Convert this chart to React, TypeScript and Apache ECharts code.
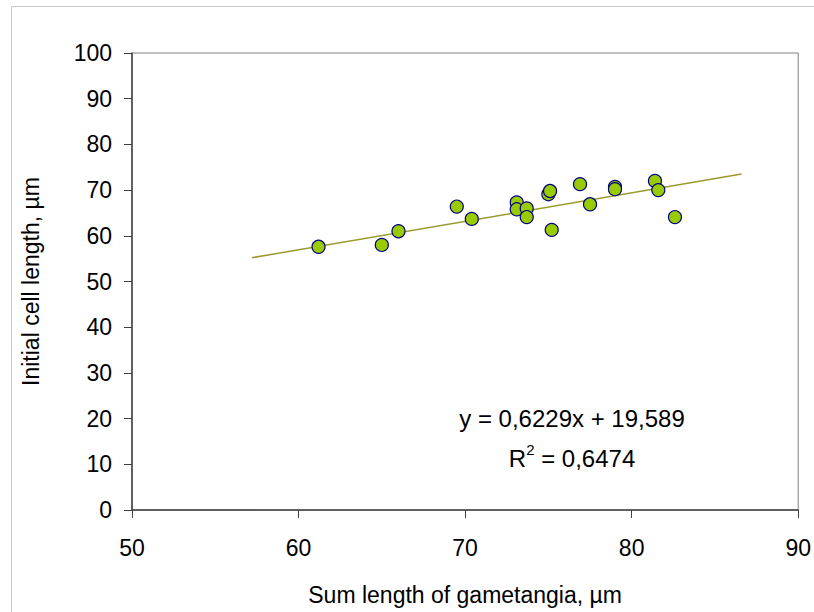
import React, { useEffect, useRef } from "react";
import * as echarts from "echarts";

const xValues = [61.2, 65.0, 66.0, 69.5, 70.4, 73.1, 73.1, 73.7, 73.7, 75.0, 75.1, 75.2, 76.9, 77.5, 79.0, 79.0, 81.4, 81.6, 82.6];
const yValues = [57.6, 58.0, 61.0, 66.4, 63.7, 67.3, 65.8, 66.0, 64.1, 69.1, 69.8, 61.3, 71.3, 66.9, 70.7, 70.2, 72.0, 70.0, 64.1];
const trendX = [57.2, 86.6];
const trendY = [55.2, 73.5];
const xTicks = [50, 60, 70, 80, 90];
const yTicks = [0, 10, 20, 30, 40, 50, 60, 70, 80, 90, 100];
const equationText = "y = 0,6229x + 19,589";
const r2Text = "= 0,6474";

const FONT = "Liberation Sans, Arial, sans-serif";

export default function App() {
  const ref = useRef<HTMLDivElement>(null);
  useEffect(() => {
    if (!ref.current) return;
    const chart = echarts.init(ref.current, null, { renderer: "svg" });
    const points = xValues.map((x, i) => [x, yValues[i]]);
    const trend = trendX.map((x, i) => [x, trendY[i]]);
    chart.setOption({
      animation: false,
      backgroundColor: "#ffffff",
      textStyle: { fontFamily: FONT },
      grid: { left: 132, top: 53, right: 12, bottom: 102, show: true, borderColor: "#808080", borderWidth: 1 },
      xAxis: {
        type: "value",
        min: xTicks[0],
        max: xTicks[xTicks.length - 1],
        interval: 10,
        name: "Sum length of gametangia, µm",
        nameLocation: "middle",
        nameGap: 73,
        nameTextStyle: { fontSize: 23, color: "#000", fontFamily: FONT },
        axisLine: { show: true, onZero: false, lineStyle: { color: "#404040", width: 1.5 } },
        axisTick: { show: true, inside: false, length: 8, lineStyle: { color: "#404040" } },
        axisLabel: { fontSize: 23, color: "#000", margin: 26, fontFamily: FONT },
        splitLine: { show: false },
      },
      yAxis: {
        type: "value",
        min: yTicks[0],
        max: yTicks[yTicks.length - 1],
        interval: 10,
        name: "Initial cell length, µm",
        nameLocation: "middle",
        nameGap: 90,
        nameRotate: 90,
        nameTextStyle: { fontSize: 23, color: "#000", fontFamily: FONT },
        axisLine: { show: true, onZero: false, lineStyle: { color: "#404040", width: 1.5 } },
        axisTick: { show: true, inside: false, length: 8, lineStyle: { color: "#404040" } },
        axisLabel: { fontSize: 23, color: "#000", margin: 20, fontFamily: FONT },
        splitLine: { show: false },
      },
      series: [
        {
          type: "line",
          data: trend,
          symbol: "none",
          lineStyle: { color: "#9a9a30", width: 1.5 },
          silent: true,
          z: 1,
        },
        {
          type: "scatter",
          data: points,
          symbol: "circle",
          symbolSize: 13,
          itemStyle: { color: "#99cc00", borderColor: "#000080", borderWidth: 1.2, opacity: 1 },
          z: 2,
        },
      ],
      graphic: [
        {
          type: "rect",
          shape: { x: 11.5, y: 6.5, width: 900, height: 700 },
          style: { fill: "none", stroke: "#c8c8c8", lineWidth: 1 },
          silent: true,
          z: -10,
        },
        {
          type: "text",
          x: 572,
          y: 418,
          style: { text: equationText, font: `24px ${FONT}`, fill: "#000", textAlign: "center", textVerticalAlign: "middle" },
        },
        {
          type: "text",
          x: 572,
          y: 456,
          style: {
            text: "{r|R}{s|2}{r| " + r2Text + "}",
            textAlign: "center",
            textVerticalAlign: "middle",
            rich: {
              r: { fontSize: 24, fontFamily: FONT, fill: "#000", color: "#000", verticalAlign: "bottom", lineHeight: 28 },
              s: { fontSize: 15, fontFamily: FONT, fill: "#000", color: "#000", verticalAlign: "top", lineHeight: 28 },
            },
          },
        },
      ],
    });
    return () => chart.dispose();
  }, []);
  return <div ref={ref} style={{ position: "fixed", left: 0, top: 0, width: 814, height: 612 }} />;
}
